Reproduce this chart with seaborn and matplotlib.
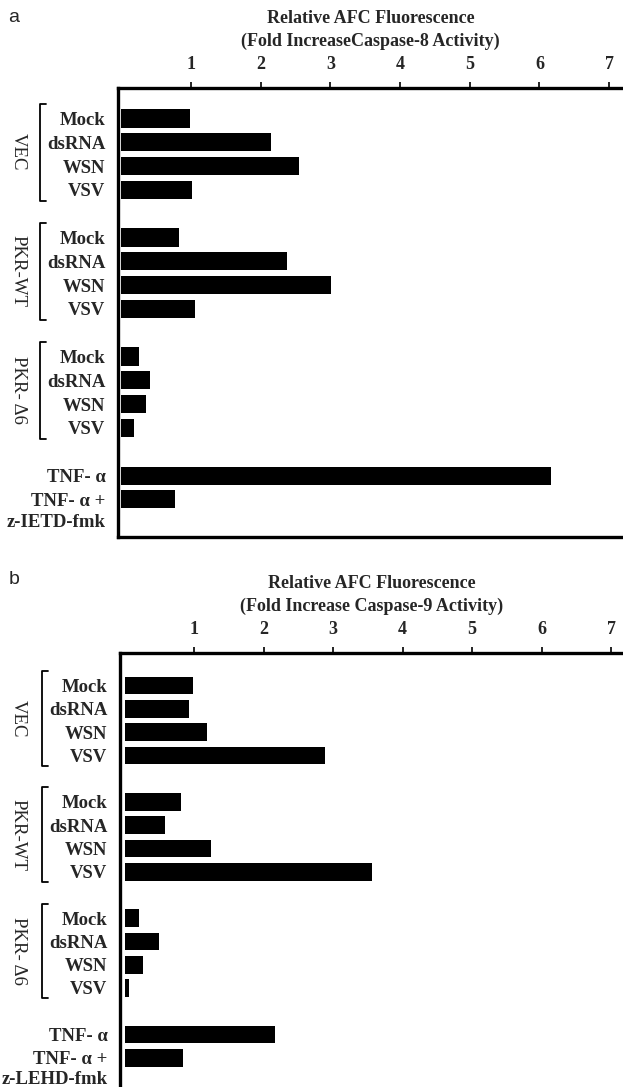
import numpy as np
import pandas as pd
import matplotlib
matplotlib.use("Agg")
import matplotlib.pyplot as plt
import matplotlib.transforms as mtransforms
import seaborn as sns

# ----------------------------------------------------------------------------
# Data
# ----------------------------------------------------------------------------
cell_lines = ["VEC", "PKR-WT", "PKR- \u03946"]
treatments = ["Mock", "dsRNA", "WSN", "VSV"]
controls = ["TNF- \u03b1", "TNF- \u03b1 +"]
inhibitor_a = "z-IETD-fmk"
inhibitor_b = "z-LEHD-fmk"

# caspase-8 (panel a), order: VEC x4, PKR-WT x4, PKR-D6 x4, TNF, TNF+inh
casp8 = [0.98, 2.15, 2.55, 1.01,
         0.82, 2.37, 3.01, 1.06,
         0.25, 0.41, 0.35, 0.18,
         6.17, 0.77]
# caspase-9 (panel b)
casp9 = [0.99, 0.93, 1.19, 2.88,
         0.81, 0.58, 1.24, 3.56,
         0.21, 0.50, 0.27, 0.06,
         2.17, 0.84]

xticks = [1, 2, 3, 4, 5, 6, 7]

# ----------------------------------------------------------------------------
# Row layout: groups of four treatments separated by an empty slot
# ----------------------------------------------------------------------------
labels, pos, group_span = [], [], []
slot = 0
for cl in cell_lines:
    start = slot
    for t in treatments:
        labels.append(t)
        pos.append(slot)
        slot += 1
    group_span.append((cl, start, slot - 1))
    slot += 1
for c in controls:
    labels.append(c)
    pos.append(slot)
    slot += 1

sns.set_style("white")
plt.rcParams["font.family"] = ["Liberation Serif", "DejaVu Serif"]

fig = plt.figure(figsize=(6.23, 10.87), dpi=100)
W, H = 623, 1087

def px_axes(left, top, right, bottom):
    return fig.add_axes([left / W, 1 - bottom / H, (right - left) / W, (bottom - top) / H])

# panel b runs off the bottom of the page, as in the original scan
panels = [
    dict(vals=casp8, box=(118, 88, 623, 537), xlim=(-0.05, 7.2), ylim=(17.58, -1.28),
         inh=inhibitor_a, casp="Caspase-8", title_gap="Increase", letter="a",
         letter_y=18, br_x=40),
    dict(vals=casp9, box=(120, 653, 623, 1095), xlim=(-0.065, 7.17), ylim=(17.6, -1.4),
         inh=inhibitor_b, casp="Caspase-9", title_gap="Increase ", letter="b",
         letter_y=579, br_x=42),
]

for p in panels:
    ax = px_axes(*p["box"])
    df = pd.DataFrame({"value": p["vals"], "pos": pos})
    sns.barplot(data=df, x="value", y="pos", orient="h", native_scale=True,
                color="black", width=0.76, errorbar=None, saturation=1,
                edgecolor="none", ax=ax)
    ax.set_xlim(*p["xlim"])
    ax.set_ylim(*p["ylim"])

    # top axis
    ax.xaxis.set_ticks_position("top")
    ax.xaxis.set_label_position("top")
    ax.set_xticks(xticks)
    ax.set_xticklabels([str(v) for v in xticks], fontsize=13, fontweight="bold")
    ax.tick_params(axis="x", direction="out", length=4, width=1.2, pad=7, color="black")
    ax.set_xlabel("Relative AFC Fluorescence\n(Fold " + p["title_gap"] + p["casp"] + " Activity)",
                  fontsize=13, fontweight="bold", labelpad=7, linespacing=1.4)

    ax.set_yticks(pos)
    ax.set_yticklabels(labels, fontsize=13.5, fontweight="bold")
    ax.tick_params(axis="y", length=0, pad=9)
    ax.set_ylabel("")

    for side in ["top", "left", "bottom"]:
        ax.spines[side].set_visible(True)
        ax.spines[side].set_linewidth(2.4)
        ax.spines[side].set_color("black")
    ax.spines["right"].set_visible(False)

    # second line of the inhibitor label
    tr_lbl = mtransforms.blended_transform_factory(ax.transAxes, ax.transData)
    shift = mtransforms.ScaledTranslation(-9 / 72, 0, fig.dpi_scale_trans)
    ax.text(0, pos[-1] + 0.95, p["inh"], transform=tr_lbl + shift, ha="right", va="center",
            fontsize=13.5, fontweight="bold", clip_on=False)

    # brackets and group names
    tr = mtransforms.blended_transform_factory(fig.transFigure, ax.transData)
    bx = p["br_x"] / W
    for name, s0, s1 in group_span:
        y0, y1 = s0 - 0.62, s1 + 0.45
        ax.plot([bx + 6 / W, bx, bx, bx + 6 / W], [y0, y0, y1, y1], color="black",
                lw=1.3, transform=tr, clip_on=False)
        ax.text(18 / W, (y0 + y1) / 2, name, transform=tr, rotation=270,
                ha="center", va="center", fontsize=13.5)

    fig.text(14 / W, 1 - p["letter_y"] / H, p["letter"], ha="center", va="center",
             fontsize=14, family="Liberation Sans")

fig.savefig("out.png", dpi=100)
